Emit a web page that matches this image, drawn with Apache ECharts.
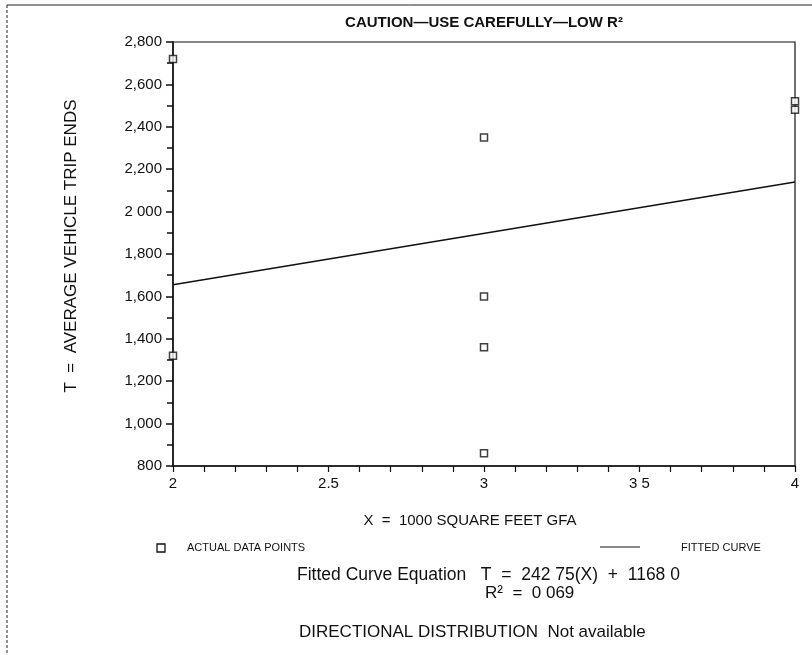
<!DOCTYPE html>
<html><head><meta charset="utf-8">
<script src="https://cdn.jsdelivr.net/npm/echarts@6/dist/echarts.min.js"></script>
<style>html,body{margin:0;padding:0;background:#fff}#c{width:812px;height:655px}</style>
</head><body><div id="c"></div>
<script>
var pointsX = [2, 2, 3, 3, 3, 3, 4, 4];
var pointsY = [2720, 1320, 2350, 1600, 1360, 860, 2520, 2480];
var fitX = [2, 4];
var fitY = [1655, 2140];
var yTickValues = [800, 1000, 1200, 1400, 1600, 1800, 2000, 2200, 2400, 2600, 2800];
var yTickLabels = ['800', '1,000', '1,200', '1,400', '1,600', '1,800', '2 000', '2,200', '2,400', '2,600', '2,800'];
var xTickValues = [2, 2.5, 3, 3.5, 4];
var xTickLabels = ['2', '2.5', '3', '3 5', '4'];

var font = '"Liberation Sans", Arial, Helvetica, sans-serif';
var chart = echarts.init(document.getElementById('c'));
function lab(list, vals, v) {
  for (var i = 0; i < vals.length; i++) if (Math.abs(vals[i] - v) < 1e-6) return list[i];
  return '';
}
chart.setOption({
  animation: false,
  grid: { left: 173, right: 17, top: 42, bottom: 189, show: true, borderColor: '#111', borderWidth: 1.2, backgroundColor: 'transparent' },
  xAxis: {
    type: 'value', min: 2, max: 4, interval: 0.5,
    axisLine: { show: true, lineStyle: { color: '#111', width: 1.5 } },
    axisTick: { show: true, length: 6, lineStyle: { color: '#111', width: 1.2 } },
    minorTick: { show: true, splitNumber: 5, length: 6, lineStyle: { color: '#111', width: 1.2 } },
    splitLine: { show: false },
    axisLabel: { color: '#111', fontSize: 15, fontFamily: font, margin: 10, formatter: function (v) { return lab(xTickLabels, xTickValues, v); } }
  },
  yAxis: {
    type: 'value', min: 800, max: 2800, interval: 200,
    axisLine: { show: true, lineStyle: { color: '#111', width: 1.5 } },
    axisTick: { show: true, length: 7, lineStyle: { color: '#111', width: 1.5 } },
    minorTick: { show: true, splitNumber: 2, length: 6, lineStyle: { color: '#111', width: 1.5 } },
    splitLine: { show: false },
    axisLabel: { color: '#111', fontSize: 15, fontFamily: font, margin: 11, formatter: function (v) { return lab(yTickLabels, yTickValues, v); } }
  },
  series: [
    {
      type: 'line', data: fitX.map(function (x, i) { return [x, fitY[i]]; }),
      symbol: 'none', lineStyle: { color: '#111', width: 1.5 }, z: 2
    },
    {
      type: 'scatter', data: pointsX.map(function (x, i) { return [x, pointsY[i]]; }),
      symbol: 'rect', symbolSize: 7,
      itemStyle: { color: '#fff', borderColor: '#111', borderWidth: 1.5 }, z: 3
    }
  ],
  graphic: [
    { type: 'line', shape: { x1: 7, y1: 5, x2: 812, y2: 5 }, style: { stroke: '#222', lineWidth: 1 } },
    { type: 'line', shape: { x1: 7, y1: 5, x2: 7, y2: 655 }, style: { stroke: '#222', lineWidth: 1, lineDash: [3, 2] } },
    { type: 'text', x: 484, y: 23, style: { text: 'CAUTION\u2014USE CAREFULLY\u2014LOW R\u00B2', fill: '#111', font: 'bold 15px "Liberation Sans", Arial, sans-serif', textAlign: 'center', textVerticalAlign: 'middle' } },
    { type: 'text', x: 71, y: 246, rotation: Math.PI / 2, style: { text: 'T  =  AVERAGE VEHICLE TRIP ENDS', fill: '#111', font: '17px ' + font, textAlign: 'center', textVerticalAlign: 'middle' } },
    { type: 'text', x: 470, y: 521, style: { text: 'X  =  1000 SQUARE FEET GFA', fill: '#111', font: '15px ' + font, textAlign: 'center', textVerticalAlign: 'middle' } },
    { type: 'rect', shape: { x: 157, y: 544, width: 8, height: 8 }, style: { fill: '#fff', stroke: '#111', lineWidth: 1.3 } },
    { type: 'text', x: 187, y: 548, style: { text: 'ACTUAL DATA POINTS', fill: '#111', font: '11px ' + font, textVerticalAlign: 'middle' } },
    { type: 'line', shape: { x1: 600, y1: 547, x2: 640, y2: 547 }, style: { stroke: '#111', lineWidth: 1 } },
    { type: 'text', x: 681, y: 548, style: { text: 'FITTED CURVE', fill: '#111', font: '11px ' + font, textVerticalAlign: 'middle' } },
    { type: 'text', x: 297, y: 575, style: { text: 'Fitted Curve Equation   T  =  242 75(X)  +  1168 0', fill: '#111', font: '17.5px ' + font, textVerticalAlign: 'middle' } },
    { type: 'text', x: 485, y: 593, style: { text: 'R\u00B2  =  0 069', fill: '#111', font: '17px ' + font, textVerticalAlign: 'middle' } },
    { type: 'text', x: 299, y: 632, style: { text: 'DIRECTIONAL DISTRIBUTION  Not available', fill: '#111', font: '17px ' + font, textVerticalAlign: 'middle' } }
  ]
});
</script></body></html>
